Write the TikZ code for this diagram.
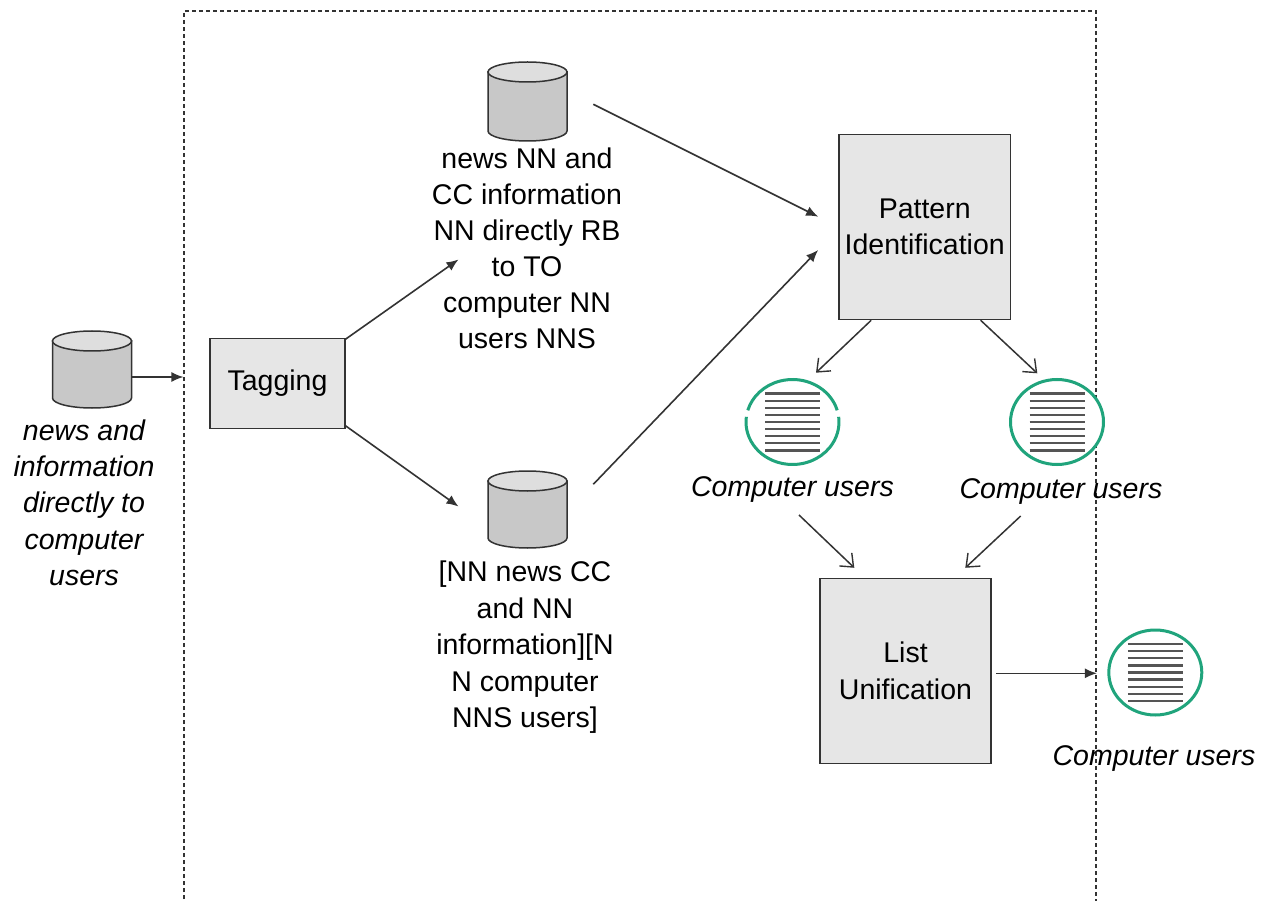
\documentclass[tikz,border=0pt]{standalone}
\usepackage{fontspec}
\setmainfont{Liberation Sans}
\usetikzlibrary{arrows.meta,calc,shapes.geometric}
\definecolor{boxfill}{HTML}{E6E6E6}
\definecolor{edgegray}{HTML}{333333}
\definecolor{cylbody}{HTML}{C8C8C8}
\definecolor{cylend}{HTML}{DEDEDE}
\definecolor{ringgreen}{RGB}{32,164,124}
\definecolor{listgray}{HTML}{555555}
\newcommand\dbcyl[4]{%
  \coordinate (#1) at (#2,{-(#3+#4)/2});
  \filldraw[cylside] (#2-39.5,-#3-10) -- (#2-39.5,-#4+10)
     arc[start angle=180,end angle=360,x radius=39.5,y radius=10]
     -- (#2+39.5,-#3-10) -- cycle;
  \filldraw[cylcap] (#2,-#3-10) ellipse[x radius=39.5,y radius=10];
}
\newcommand\listlines[1]{%
  \foreach \k in {0,...,8}
    \draw[listline] ($(#1)+(-27.5,28.4-\k*7.1)$) -- ++(55,0);
}
\begin{document}
\begin{tikzpicture}[x=1pt,y=1pt,
  procbox/.style={draw=edgegray, line width=1.6pt, fill=boxfill, inner sep=0pt,
     align=center, font=\fontsize{28.5}{36.6}\selectfont},
  lbl/.style={align=center, inner sep=0pt, font=\fontsize{28.5}{36}\selectfont},
  ilbl/.style={align=center, inner sep=0pt, font=\fontsize{28.5}{36.3}\selectfont\itshape},
  conn/.style={draw=edgegray, line width=1.6pt, -{Latex[length=12pt,width=10pt]}},
  oconn/.style={draw=edgegray, line width=1.5pt, -{Straight Barb[length=11pt,width=18pt,line width=1.4pt]}},
  dashline/.style={draw=edgegray, line width=1.3pt, dash pattern=on 4pt off 3pt},
  cylside/.style={fill=cylbody, draw=edgegray, line width=1.5pt},
  cylcap/.style={fill=cylend, draw=edgegray, line width=1.5pt},
  ring/.style={ellipse, minimum width=93pt, minimum height=85pt, inner sep=0pt, fill=white},
  ringline/.style={draw=ringgreen, line width=3pt},
  listline/.style={draw=listgray, line width=2.3pt}
]
\useasboundingbox (0,0) rectangle (1275,-901);
\fill[white] (0,0) rectangle (1275,-901);

% dashed frame
\draw[dashline] (184,-906) -- (184,-11) -- (1096,-11) -- (1096,-906);

% cylinders
\dbcyl{cylL}{92}{331}{408}
\dbcyl{cylA}{527.5}{62}{141}
\dbcyl{cylB}{527.5}{471}{548}

% text labels
\node[ilbl, anchor=north] (txtL) at (84,-419.5) {news and\\information\\directly to\\computer\\users};
\node[lbl, anchor=north] (txtA) at (527,-148) {news NN and\\CC information\\NN directly RB\\to TO\\computer NN\\users NNS};
\node[lbl, anchor=north, font=\fontsize{28.5}{36.5}\selectfont] (txtB) at (525,-561) {[NN news CC\\and NN\\information][N\\N computer\\NNS users]};

% process boxes
\node[procbox, minimum width=134.5pt, minimum height=90pt] (tag) at (277.5,-383.5) {Tagging};
\node[procbox, minimum width=171.5pt, minimum height=185pt] (pat) at (924.7,-227) {Pattern\\Identification};
\node[procbox, minimum width=171.2pt, minimum height=185pt] (lst) at (905.5,-670.9) {List\\Unification};

% rings
\node[ring] (c1) at (792.5,-422) {};
\draw[ringline] ($(c1)+(16:46.5 and 42.5)$) arc[start angle=16,end angle=164,x radius=46.5,y radius=42.5];
\draw[ringline] ($(c1)+(173:46.5 and 42.5)$) arc[start angle=173,end angle=367,x radius=46.5,y radius=42.5];
\listlines{c1}
\node[ring, draw=ringgreen, line width=3pt] (c2) at (1057,-422) {};
\listlines{c2}
\node[ring, draw=ringgreen, line width=3pt] (c3) at (1155.3,-672.5) {};
\listlines{c3}

\node[ilbl, anchor=base] (lab1) at (792.5,-496) {Computer users};
\node[ilbl, anchor=base] (lab2) at (1061,-498.3) {Computer users};
\node[ilbl, anchor=base] (lab3) at (1154,-765.7) {Computer users};

% free ends of connectors
\coordinate (frameIn) at ($(tag.west)+(-26,6.5)$);
\coordinate (topIn) at (458.5,-259.5);
\coordinate (botIn) at (458.5,-506.5);
\coordinate (frameOut) at ($(lst.east)+(105,-2.4)$);

% connectors
\draw[conn] ($(cylL)+(39.5,-7.5)$) -- (frameIn);
\draw[conn] ($(tag.north east)+(0,-1.5)$) -- (topIn);
\draw[conn] ($(tag.south east)+(0,3.5)$) -- (botIn);
\draw[conn] ($(cylA)+(65.8,-2.8)$) -- ($(pat.west)+(-20,10.3)$);
\draw[conn] ($(cylB)+(65.8,25.2)$) -- ($(pat.west)+(-20,-23)$);
\draw[oconn] ($(pat.south west)+(33,0)$) -- ($(c1)+(23.5,49.3)$);
\draw[oconn] ($(pat.south west)+(142.5,0)$) -- ($(c2)+(-19.7,48.7)$);
\draw[oconn] ($(lab1.base)+(6.5,-19)$) -- ($(lst.north west)+(35.2,9.8)$);
\draw[oconn] ($(lab2.base)+(-40.3,-17.7)$) -- ($(lst.north west)+(146.2,9.8)$);
\draw[conn] ($(lst.east)+(4.5,-2.4)$) -- (frameOut);
\end{tikzpicture}
\end{document}
